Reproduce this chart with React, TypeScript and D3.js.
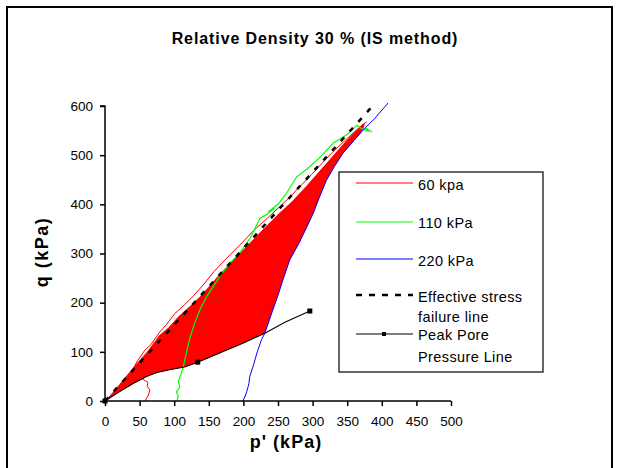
import * as React from 'react';
import { axisBottom, axisLeft, scaleLinear, select, line } from 'd3';

// stress paths, [p', q] in kPa
const path60: [number, number][] = [
    [58, 0], [62, 10], [65, 22], [61, 30], [62, 38], [55, 44], [46, 54], [40, 64], [47, 82], [58, 104],
    [66, 114], [79, 140], [89, 156], [101, 178], [115, 196], [128, 214], [143, 238], [158, 264],
    [174, 288], [194, 316], [215, 347], [238, 376], [268, 416], [298, 460], [328, 505], [350, 534],
    [368, 557], [378, 568]
];
const path110: [number, number][] = [
    [104, 0], [106, 10], [103, 18], [108, 28], [106, 40], [110, 55], [113, 69], [118, 100], [123, 130],
    [130, 160], [137, 185], [146, 210], [156, 232], [168, 258], [181, 281], [195, 302], [210, 332],
    [224, 372], [232, 378], [245, 392], [236, 385], [250, 400], [262, 422], [277, 456], [292, 472],
    [311, 496], [330, 525], [350, 542], [364, 561], [372, 553], [380, 549], [376, 556], [386, 547]
];
const path220: [number, number][] = [
    [199, 0], [202, 8], [205, 20], [207, 30], [208, 36], [209, 49], [215, 75], [220, 100], [226, 124],
    [231, 138], [241, 179], [250, 215], [258, 250], [267, 287], [280, 320], [292, 355], [301, 382],
    [310, 415], [320, 449], [332, 478], [344, 504], [360, 530], [373, 551], [390, 575], [409, 606]
];
const failureLine: [number, number][] = [[0, 0], [390, 605]];
const peakPoreLine: [number, number][] = [
    [0, 0], [20, 18], [40, 35], [60, 50], [75, 58], [95, 64], [115, 69], [134, 79], [170, 100],
    [200, 118], [231, 138], [260, 160], [296, 183]
];
const peakMarkers: [number, number][] = [[0, 0], [134, 79], [296, 183]];
// upper boundary of the shaded zone
const shadeUpper: [number, number][] = [
    [0, 0], [15, 24], [30, 50], [48, 80], [62, 102], [78, 133], [92, 150], [106, 172], [122, 192],
    [137, 212], [152, 236], [168, 262], [186, 288], [206, 317], [228, 349], [250, 380], [270, 406],
    [290, 436], [310, 468], [330, 500], [350, 532], [365, 553], [376, 567]
];

const xTicks = [0, 50, 100, 150, 200, 250, 300, 350, 400, 450, 500];
const yTicks = [0, 100, 200, 300, 400, 500, 600];

const legendItems = [
    { label: ["60 kpa"], color: "#ff0000", dash: "", marker: false },
    { label: ["110 kPa"], color: "#00ff00", dash: "", marker: false },
    { label: ["220 kPa"], color: "#0000ff", dash: "", marker: false },
    { label: ["Effective stress", "failure line"], color: "#000", dash: "6,7", marker: false },
    { label: ["Peak Pore", "Pressure Line"], color: "#000", dash: "", marker: true },
];

const FONT = "'Liberation Sans', Arial, sans-serif";

const App = () => {
    const svgRef = React.useRef<SVGSVGElement>(null);

    React.useEffect(() => {
        if (!svgRef.current) return;
        const svg = select(svgRef.current);
        svg.selectAll("*").remove();

        const x = scaleLinear().domain([0, 500]).range([105, 451]);
        const y = scaleLinear().domain([0, 600]).range([401, 106]);
        const ln = line<[number, number]>().x(d => x(d[0])).y(d => y(d[1]));

        // frame
        svg.append("rect").attr("x", 7).attr("y", 7).attr("width", 605).attr("height", 470)
            .attr("fill", "white").attr("stroke", "black").attr("stroke-width", 2);

        svg.append("text").attr("x", 315).attr("y", 44).attr("text-anchor", "middle")
            .style("font-family", FONT).style("font-size", "16px").style("font-weight", "bold")
            .style("letter-spacing", "0.9px")
            .text("Relative Density 30 % (IS method)");

        // shaded zone: peak pore line -> 220 kPa path -> failure side
        const lower = peakPoreLine.filter(d => d[0] <= 231);
        const right = path220.filter(d => d[1] > 138 && d[1] < 567);
        const poly = [...lower, ...right, ...shadeUpper.slice().reverse()];
        svg.append("path").attr("d", ln(poly) + "Z").attr("fill", "#ff0000").attr("stroke", "none");

        svg.append("path").attr("d", ln(path60)).attr("fill", "none").attr("stroke", "#ff0000").attr("stroke-width", 1);
        svg.append("path").attr("d", ln(path110)).attr("fill", "none").attr("stroke", "#00ff00").attr("stroke-width", 1.2);
        svg.append("path").attr("d", ln(path220)).attr("fill", "none").attr("stroke", "#0000ff").attr("stroke-width", 1);
        svg.append("path").attr("d", ln(failureLine)).attr("fill", "none").attr("stroke", "black")
            .attr("stroke-width", 2.5).attr("stroke-dasharray", "5,8");
        svg.append("path").attr("d", ln(peakPoreLine)).attr("fill", "none").attr("stroke", "black").attr("stroke-width", 1.1);
        svg.selectAll(".pm").data(peakMarkers).join("rect").attr("class", "pm")
            .attr("x", d => x(d[0]) - 2.5).attr("y", d => y(d[1]) - 2.5).attr("width", 5).attr("height", 5).attr("fill", "black");

        // axes
        const gx = svg.append("g").attr("transform", `translate(0, ${y(0)})`)
            .call(axisBottom(x).tickValues(xTicks).tickSize(5).tickSizeOuter(0).tickPadding(10) as any);
        const gy = svg.append("g").attr("transform", `translate(${x(0)}, 0)`)
            .call(axisLeft(y).tickValues(yTicks).tickSize(5).tickSizeOuter(5).tickPadding(7) as any);
        [gx, gy].forEach(g => {
            g.selectAll("path, line").attr("stroke", "black").attr("stroke-width", 1.5);
            g.selectAll("text").style("font-family", FONT).style("font-size", "13.5px").attr("fill", "black");
        });
        gx.select(".domain").attr("d", `M${x(0)},0H${x(500)}`);
        gy.select(".domain").attr("d", `M-5,${y(600)}H0V${y(0)}`);

        svg.append("text").attr("x", 286).attr("y", 448).attr("text-anchor", "middle")
            .style("font-family", FONT).style("font-size", "18px").style("font-weight", "bold")
            .style("letter-spacing", "1px").text("p' (kPa)");
        svg.append("text").attr("transform", "translate(48, 252) rotate(-90)").attr("text-anchor", "middle")
            .style("font-family", FONT).style("font-size", "18px").style("font-weight", "bold")
            .style("letter-spacing", "1.5px").text("q (kPa)");

        // legend
        const lg = svg.append("g");
        lg.append("rect").attr("x", 339).attr("y", 172).attr("width", 204).attr("height", 200)
            .attr("fill", "white").attr("stroke", "black").attr("stroke-width", 1.2);
        const rows = [183, 222, 259, 295, 334];
        const textRows = [[190], [228], [266], [302, 322], [340, 362]];
        legendItems.forEach((it, i) => {
            lg.append("line").attr("x1", 356).attr("x2", 413).attr("y1", rows[i]).attr("y2", rows[i])
                .attr("stroke", it.color).attr("stroke-width", it.dash ? 2.5 : 1.2)
                .attr("stroke-dasharray", it.dash || null);
            if (it.marker) {
                lg.append("rect").attr("x", 382).attr("y", rows[i] - 2).attr("width", 4).attr("height", 4).attr("fill", "black");
            }
            it.label.forEach((t, j) => {
                lg.append("text").attr("x", 418).attr("y", textRows[i][j])
                    .style("font-family", FONT).style("font-size", "14.5px").style("letter-spacing", "0.4px").text(t);
            });
        });
    }, []);

    return (
        <svg ref={svgRef} width={621} height={468} style={{ position: 'absolute', left: 0, top: 0, background: 'white' }} />
    );
};

export default App;
